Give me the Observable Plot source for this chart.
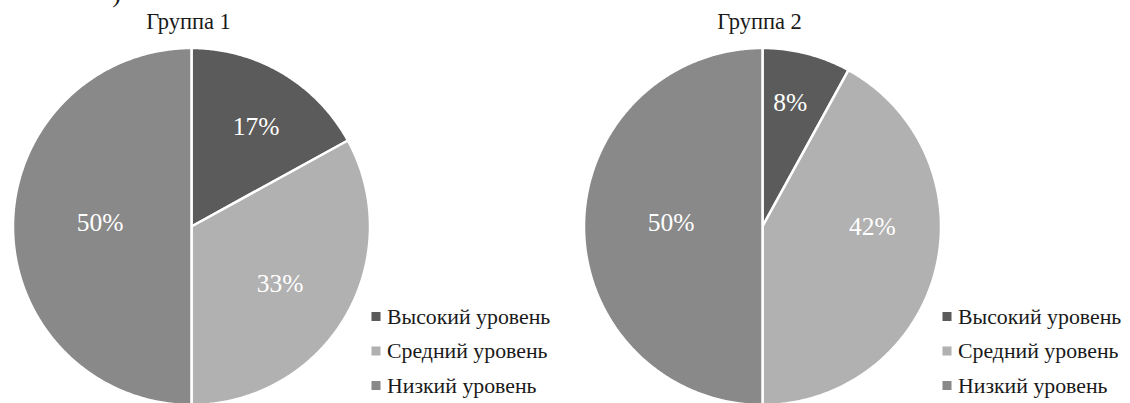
<!DOCTYPE html>
<html>
<head>
<meta charset="utf-8">
<script src="https://cdn.jsdelivr.net/npm/d3@7"></script>
<script src="https://cdn.jsdelivr.net/npm/@observablehq/plot@0.6"></script>
<style>
  html, body { margin: 0; padding: 0; background: #fff; }
  #chart svg { display: block; }
</style>
</head>
<body>
<div id="chart"></div>
<script>
// ---- data ----
const groups = ["Группа 1", "Группа 2"];
const levels = ["Высокий уровень", "Средний уровень", "Низкий уровень"];
const group1Values = [17, 33, 50];
const group2Values = [8, 42, 50];
const cornerText = [")"];

// ---- styles / layout ----
const colors = ["#5b5b5b", "#b1b1b1", "#898989"];
const W = 1130, H = 403;
const centersX = [191, 762];
const cy = 226;
const R = 178.5;
const font = "'Liberation Serif', 'Times New Roman', serif";

const seriesByGroup = [group1Values, group2Values];
const pie = d3.pie().sort(null).value(d => d);

const polyPoints = [];
const labels = [];
const titles = [];
const legend = [];

seriesByGroup.forEach((vals, gi) => {
  const cx = centersX[gi];
  const arcs = pie(vals);
  arcs.forEach((a, li) => {
    const key = gi + "-" + li;
    polyPoints.push({key, level: levels[li], x: cx, y: cy});
    const n = Math.max(2, Math.ceil((a.endAngle - a.startAngle) / (Math.PI / 360)));
    for (let k = 0; k <= n; k++) {
      const t = a.startAngle + (a.endAngle - a.startAngle) * k / n;
      polyPoints.push({key, level: levels[li], x: cx + R * Math.sin(t), y: cy - R * Math.cos(t)});
    }
    polyPoints.push({key, level: levels[li], x: cx, y: cy});
    const mid = (a.startAngle + a.endAngle) / 2;
    const frac = a.value / d3.sum(vals);
    // Excel "best fit" placement: mid-size right-hand labels pulled towards the horizontal
    const midSize = frac > 0.4 && frac < 0.5;
    const lr = midSize ? 110 : 133 - 83 * frac;
    const ang = midSize ? mid - 0.25 : (frac < 0.1 ? mid - 0.03 : mid + 0.04);
    labels.push({x: cx + lr * Math.sin(ang), y: cy - lr * Math.cos(ang), text: a.value + "%"});
  });
  titles.push({x: cx - 3, y: 28, text: groups[gi]});
  levels.forEach((lv, li) => {
    legend.push({x: cx + 184.5, tx: cx + 195.5, y: 323 + li * 34.5, level: lv});
  });
});

const chart = Plot.plot({
  width: W,
  height: H,
  margin: 0,
  style: {background: "#fff", fontFamily: font},
  x: {domain: [0, W], range: [0, W], axis: null},
  y: {domain: [0, H], range: [0, H], axis: null},
  color: {domain: levels, range: colors},
  marks: [
    Plot.line(polyPoints, {x: "x", y: "y", z: "key", fill: "level", stroke: "white", strokeWidth: 2.5, strokeLinejoin: "round", curve: "linear"}),
    Plot.text(labels, {x: "x", y: "y", text: "text", fill: "white", fontSize: 25.5, fontFamily: font}),
    Plot.text(titles, {x: "x", y: "y", text: "text", fill: "#1a1a1a", fontSize: 22.5, fontFamily: font, lineAnchor: "bottom"}),
    Plot.dot(legend, {x: "x", y: d => d.y - 7, fill: "level", symbol: "square", r: 5.1, stroke: null}),
    Plot.text(legend, {x: "tx", y: "y", text: "level", fill: "#1a1a1a", fontSize: 21.8, fontFamily: font, textAnchor: "start", lineAnchor: "bottom"}),
    Plot.text(cornerText, {x: () => 116, y: () => 1, text: d => d, fill: "#1a1a1a", fontSize: 26, fontFamily: font, lineAnchor: "bottom"})
  ]
});

document.getElementById("chart").appendChild(chart);
</script>
</body>
</html>
